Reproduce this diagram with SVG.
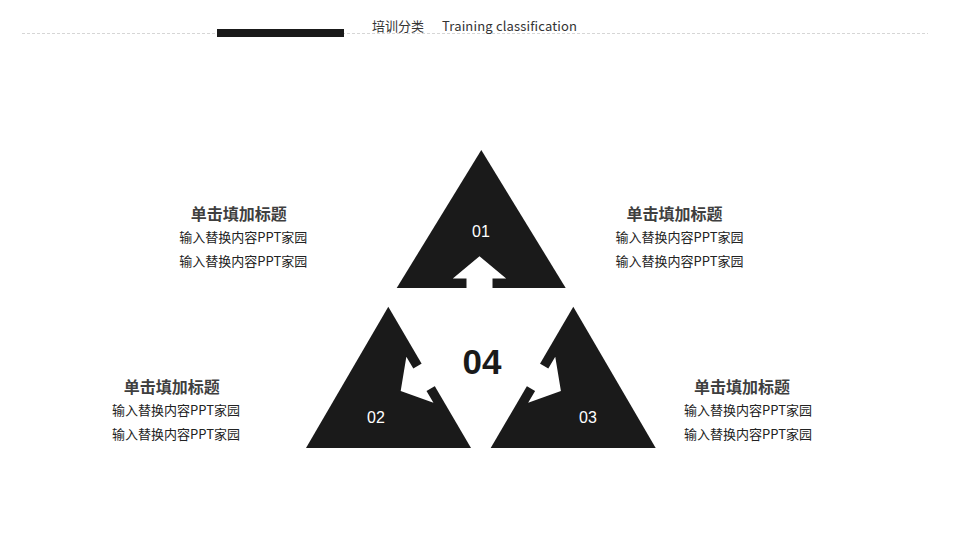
<svg xmlns="http://www.w3.org/2000/svg" xmlns:xlink="http://www.w3.org/1999/xlink" width="960" height="548" viewBox="0 0 960 548">
<style>
.tri{fill:#1a1a1a}
.notch{fill:#ffffff}
.num{font-family:"Liberation Sans","Noto Sans",sans-serif;font-size:16px;fill:#ffffff;text-anchor:middle}
.ttl{font-family:"Noto Sans CJK SC",sans-serif;font-size:16px;font-weight:bold;fill:#3f3f3f;text-anchor:middle}
.body{font-family:"Noto Sans CJK SC",sans-serif;font-size:13px;fill:#222222;text-anchor:middle}
.hdr{font-family:"Noto Sans CJK SC",sans-serif;font-size:13px;fill:#333333}
</style>
<defs>
<polygon id="arrow" points="0,-31.7 26.7,-9.4 13,-9.4 13,2 -13,2 -13,-9.4 -26.7,-9.4"/>
</defs>
<rect width="960" height="548" fill="#ffffff"/>
<g id="header">
<line x1="22" y1="33.5" x2="928" y2="33.5" stroke="#d6d6d6" stroke-width="1" stroke-dasharray="3,2"/>
<rect x="217" y="29" width="127" height="8" fill="#1a1a1a"/>
<text class="hdr" x="372" y="31">培训分类</text>
<text class="hdr" x="442" y="31" font-family="Liberation Sans" textLength="135">Training classification</text>
</g>
<g id="node-01">
<polygon class="tri" points="481.3,150 565.7,288 396.7,288"/>
<use xlink:href="#arrow" class="notch" transform="translate(479.5,288)"/>
<text class="num" x="481" y="237">01</text>
</g>
<g id="node-02">
<polygon class="tri" points="388.3,306.7 471,448 306,448"/>
<use xlink:href="#arrow" class="notch" transform="translate(428,375) rotate(-120.5)"/>
<text class="num" x="376" y="423">02</text>
</g>
<g id="node-03">
<polygon class="tri" points="573.3,306.7 655.7,448 490.7,448"/>
<use xlink:href="#arrow" class="notch" transform="translate(533.6,375) rotate(120.5)"/>
<text class="num" x="588" y="423">03</text>
</g>
<g id="node-04">
<text x="482" y="373.5" font-family="Liberation Sans,Noto Sans,sans-serif" font-size="35" font-weight="bold" fill="#1a1a1a" text-anchor="middle">04</text>
</g>
<g id="label-tl">
<text class="ttl" x="238.7" y="220">单击填加标题</text>
<text class="body" x="243.3" y="242">输入替换内容PPT家园</text>
<text class="body" x="243.3" y="266">输入替换内容PPT家园</text>
</g>
<g id="label-tr">
<text class="ttl" x="674.5" y="220">单击填加标题</text>
<text class="body" x="679.5" y="242">输入替换内容PPT家园</text>
<text class="body" x="679.5" y="266">输入替换内容PPT家园</text>
</g>
<g id="label-bl">
<text class="ttl" x="171.7" y="393">单击填加标题</text>
<text class="body" x="176" y="415">输入替换内容PPT家园</text>
<text class="body" x="176" y="439">输入替换内容PPT家园</text>
</g>
<g id="label-br">
<text class="ttl" x="742" y="393">单击填加标题</text>
<text class="body" x="748" y="415">输入替换内容PPT家园</text>
<text class="body" x="748" y="439">输入替换内容PPT家园</text>
</g>
<g id="connectors"></g>
</svg>
